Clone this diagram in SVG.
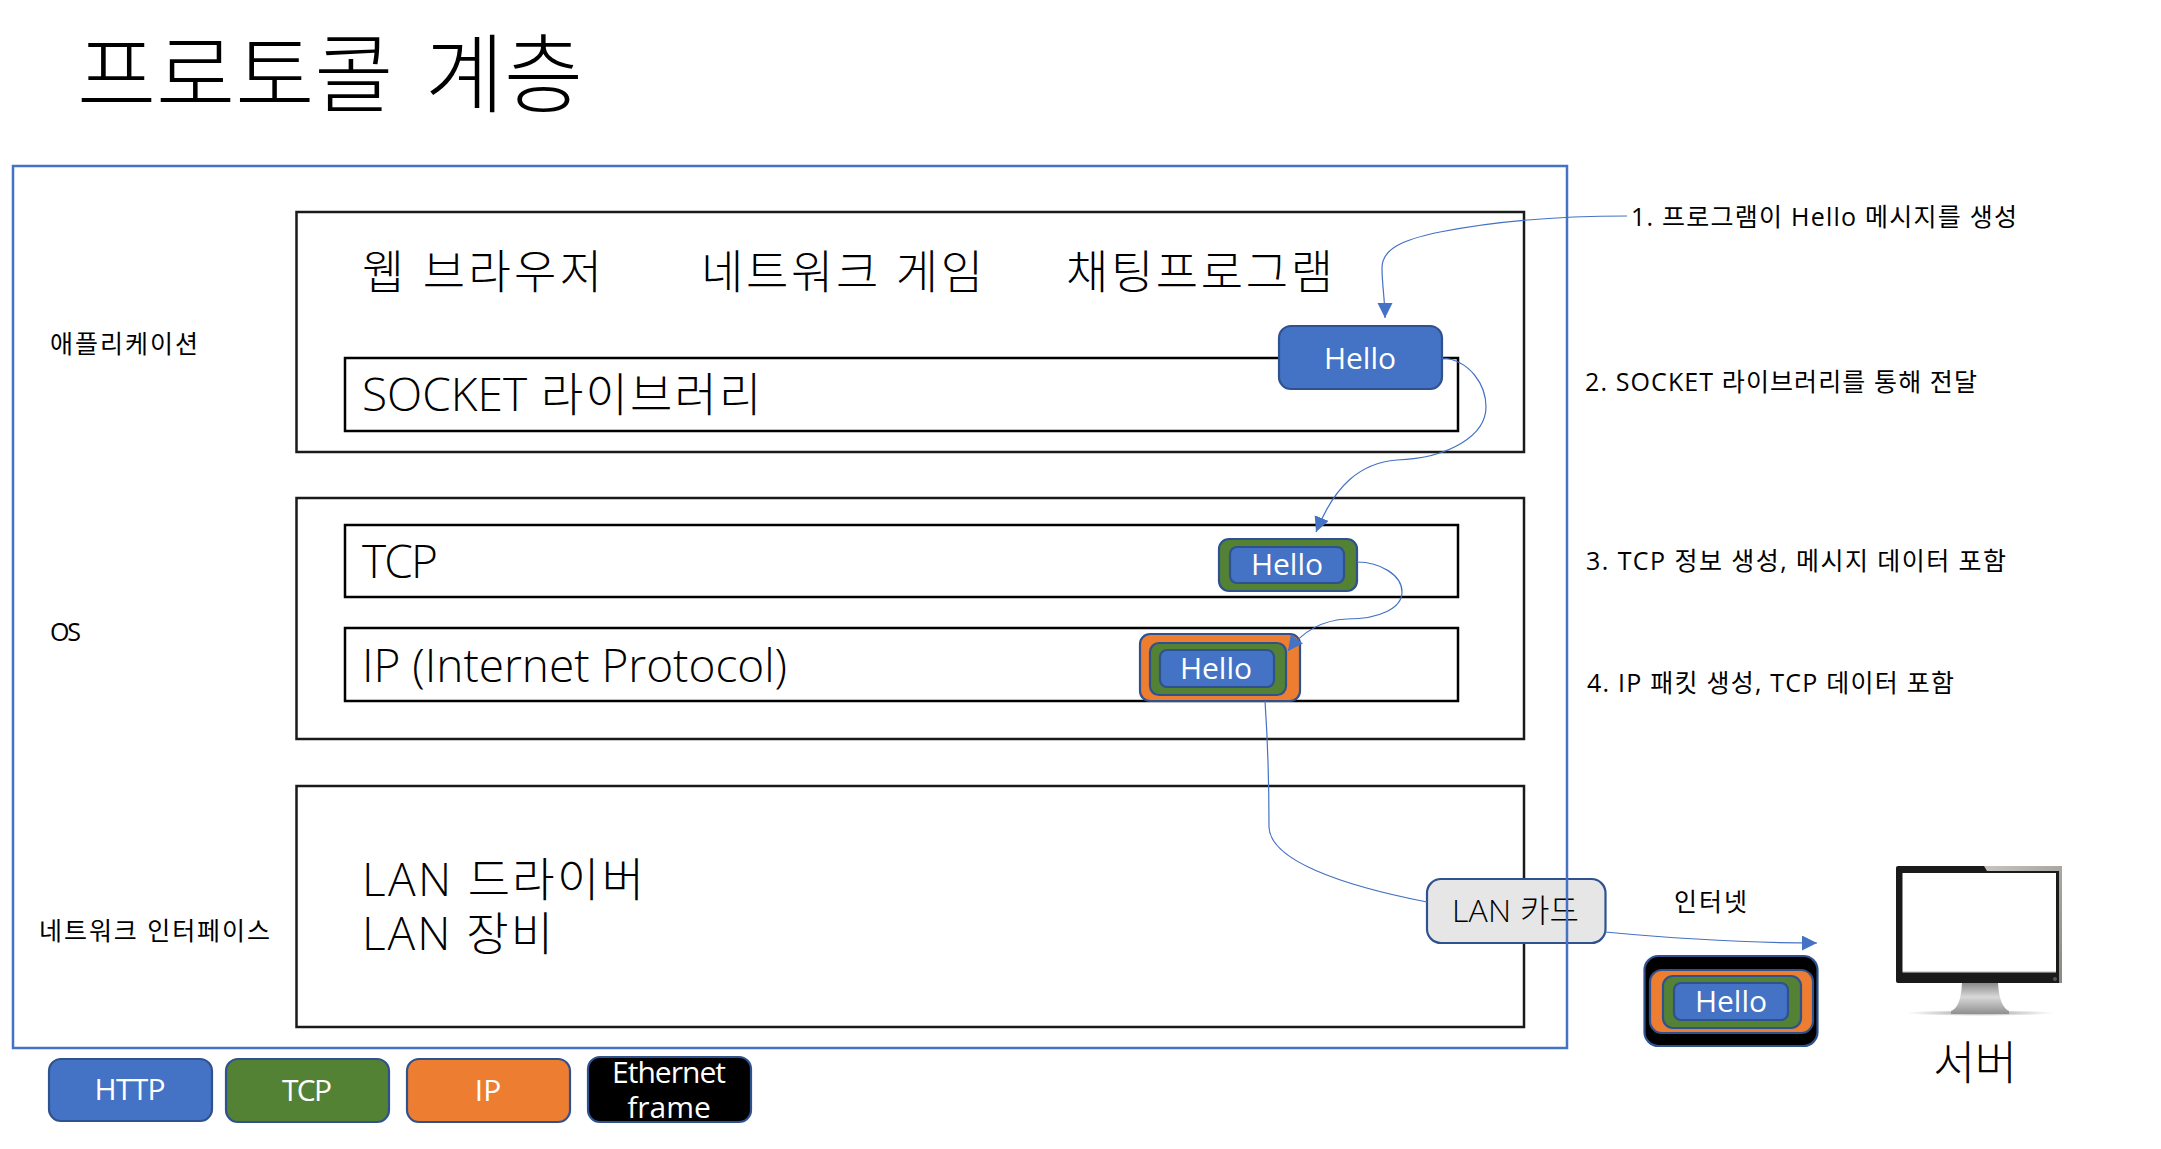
<svg xmlns="http://www.w3.org/2000/svg" width="2161" height="1149" viewBox="0 0 2161 1149">
<style>
text{font-family:"Open Sans","Noto Sans CJK KR",sans-serif;fill:#000}
.box{fill:#fff;stroke:#1a1a1a;stroke-width:2.5}
.inner{fill:#fff;stroke:#000;stroke-width:2.5}
.frame{fill:none;stroke:#4472c4;stroke-width:2.5}
.blue,.green,.orange,.black,.gray{stroke:#2f528f;stroke-width:2.2}
.blue{fill:#4472c4}.green{fill:#548235}.orange{fill:#ed7d31}.black{fill:#000}.gray{fill:#e7e6e6}
.w{fill:#fff;font-size:30px;text-anchor:middle}
.big{font-size:46px;font-weight:300}
.s{font-size:25px}
.c{fill:none;stroke:#4472c4;stroke-width:1.2}
</style>
<defs>
<marker id="arrow" markerUnits="userSpaceOnUse" markerWidth="16" markerHeight="16" refX="15" refY="7.5" orient="auto"><path d="M0 0L15 7.500L0 15Z" fill="#4472c4"/></marker>
<linearGradient id="neck" x1="0" y1="0" x2="0" y2="1"><stop offset="0" stop-color="#8a8a8a"/><stop offset=".45" stop-color="#d8d8d8"/><stop offset="1" stop-color="#8f8f8f"/></linearGradient>
<radialGradient id="shadow"><stop offset="0" stop-color="#999"/><stop offset="1" stop-color="#fff"/></radialGradient>
<linearGradient id="edge" x1="0" y1="0" x2="1" y2="1"><stop offset="0" stop-color="#c8c5c0"/><stop offset="1" stop-color="#8c8884"/></linearGradient>
</defs>

<g id="title"><text y="106" font-size="86" font-weight="300"><tspan x="77">프로토콜</tspan> <tspan x="425">계층</tspan></text></g>

<g id="application-layer">
<rect class="box" x="296.500" y="212" width="1227.500" height="240"/>
<text class="big" x="362" y="288" textLength="240">웹 브라우저</text>
<text class="big" x="701" y="288" textLength="282">네트워크 게임</text>
<text class="big" x="1066" y="288" textLength="267">채팅프로그램</text>
<text x="50" y="353" font-size="25" textLength="148">애플리케이션</text>
</g>
<g id="socket-library">
<rect class="inner" x="345" y="358" width="1113" height="73"/>
<text class="big" y="411"><tspan x="362">SOCKET</tspan> <tspan x="541" letter-spacing="2.200">라이브러리</tspan></text>
</g>
<g id="os-layer">
<rect class="box" x="296.500" y="498" width="1227.500" height="241"/>
<text x="50" y="641" font-size="25" textLength="31">OS</text>
</g>
<g id="tcp-box">
<rect class="inner" x="345" y="525" width="1113" height="72"/>
<text class="big" x="362" y="578" textLength="76">TCP</text>
</g>
<g id="ip-box">
<rect class="inner" x="345" y="628" width="1113" height="73"/>
<text class="big" x="362" y="682" textLength="425">IP (Internet Protocol)</text>
</g>
<g id="network-layer">
<rect class="box" x="296.500" y="786" width="1227.500" height="241"/>
<text class="big" x="362" y="896" textLength="282">LAN 드라이버</text>
<text class="big" x="362" y="950" textLength="191">LAN 장비</text>
<text x="39" y="940" font-size="25" textLength="231">네트워크 인터페이스</text>
</g>
<g id="lan-card">
<rect class="gray" x="1427" y="879" width="178.500" height="64" rx="14"/>
<text x="1452" y="922" font-size="32" font-weight="300" textLength="127">LAN 카드</text>
</g>
<g id="outer-frame"><rect class="frame" x="13" y="166" width="1554" height="882"/></g>

<g id="hello-http">
<rect class="blue" x="1279" y="326" width="163" height="63" rx="12"/>
<text class="w" x="1360" y="369">Hello</text>
</g>
<g id="hello-tcp">
<rect class="green" x="1219" y="539" width="138" height="52" rx="10"/>
<rect class="blue" x="1230" y="547" width="114" height="36" rx="7"/>
<text class="w" x="1287" y="575">Hello</text>
</g>
<g id="hello-ip">
<rect class="orange" x="1140" y="634" width="160" height="67" rx="10"/>
<rect class="green" x="1150" y="643" width="136" height="52" rx="9"/>
<rect class="blue" x="1160" y="650" width="114" height="37" rx="7"/>
<text class="w" x="1216" y="679">Hello</text>
</g>
<g id="hello-frame">
<rect class="black" x="1644.500" y="956" width="173" height="90" rx="14"/>
<rect class="orange" x="1650" y="970" width="163" height="63" rx="12"/>
<rect class="green" x="1663" y="976" width="138" height="52" rx="10"/>
<rect class="blue" x="1674" y="983" width="114" height="37" rx="7"/>
<text class="w" x="1731" y="1012">Hello</text>
</g>

<g id="server">
<ellipse cx="1980" cy="1013" rx="74" ry="3" fill="url(#shadow)"/>
<path d="M1962 983H1998C1999 1000 2003 1008 2009 1011V1014H1951V1011C1958 1008 1961 1000 1962 983Z" fill="url(#neck)"/>
<rect x="1896" y="866" width="166" height="117" rx="2" fill="#1a1a1a"/>
<path d="M1984 866H2062V983H2059V871H1987Z" fill="url(#edge)"/>
<rect x="1902.500" y="873" width="153.500" height="98" fill="#fff"/>
<rect x="1902.500" y="971" width="153.500" height="1.500" fill="#d9d9d9"/>
<circle cx="2055" cy="979" r="2" fill="#555"/>
<text x="1933" y="1079" font-size="46" font-weight="300" textLength="84">서버</text>
</g>

<g id="step-labels">
<text class="s" x="1631" y="226" textLength="386">1. 프로그램이 Hello 메시지를 생성</text>
<text class="s" x="1585" y="391" textLength="392">2. SOCKET 라이브러리를 통해 전달</text>
<text class="s" x="1586" y="570" textLength="420">3. TCP 정보 생성, 메시지 데이터 포함</text>
<text class="s" x="1587" y="692" textLength="367">4. IP 패킷 생성, TCP 데이터 포함</text>
<text class="s" x="1674" y="911" textLength="73">인터넷</text>
</g>

<g id="legend">
<rect class="blue" x="49" y="1059" width="163" height="62" rx="12"/>
<text class="w" x="130" y="1100" textLength="71">HTTP</text>
<rect class="green" x="226" y="1059" width="163" height="63" rx="12"/>
<text class="w" x="307" y="1101" textLength="50">TCP</text>
<rect class="orange" x="407" y="1059" width="163" height="63" rx="12"/>
<text class="w" x="488" y="1101">IP</text>
<rect class="black" x="588" y="1057" width="163" height="65" rx="12"/>
<text class="w" x="669" y="1083" textLength="114">Ethernet</text>
<text class="w" x="669" y="1118">frame</text>
</g>

<g id="connectors">
<path class="c" marker-end="url(#arrow)" d="M1627 216C1560 216 1500 220 1440 232C1400 240 1382 250 1382 268C1382 285 1385 300 1385 318"/>
<path class="c" marker-end="url(#arrow)" d="M1442 358C1470 360 1486 385 1486 407C1486 435 1450 458 1397 460C1360 463 1335 485 1316 532"/>
<path class="c" marker-end="url(#arrow)" d="M1357 562C1380 562 1402 575 1402 592C1402 608 1380 619 1347 619C1325 620 1305 628 1288 651"/>
<path class="c" d="M1265 701C1267 730 1269 790 1269 827C1270 860 1340 885 1427 902"/>
<path class="c" marker-end="url(#arrow)" d="M1605 932C1680 939 1750 943 1817 943"/>
</g>
</svg>
